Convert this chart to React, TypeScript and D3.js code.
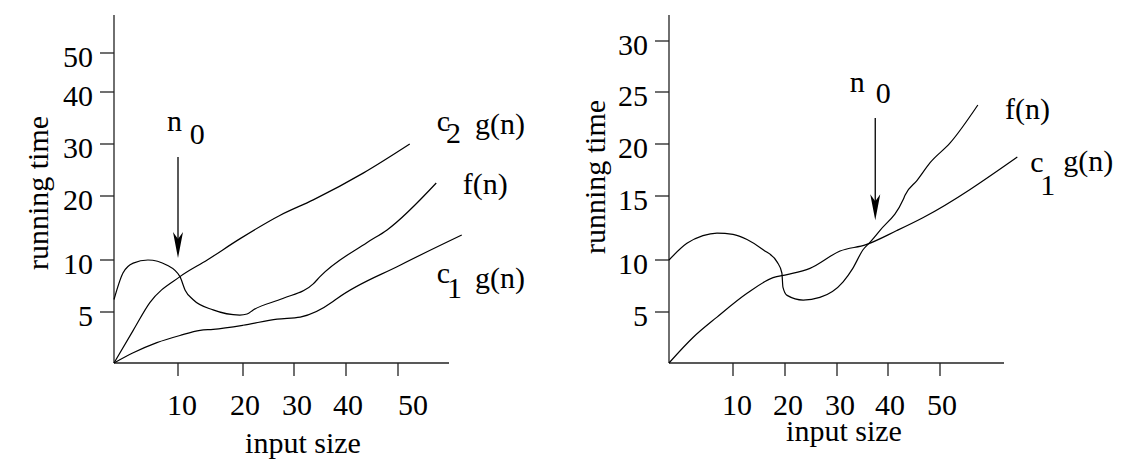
import React from 'react';
import * as d3 from 'd3';

// ---------- data ----------
const leftYTicks = [5, 10, 20, 30, 40, 50];
const leftXTicks = [10, 20, 30, 40, 50];
const rightYTicks = [5, 10, 15, 20, 25, 30];
const rightXTicks = [10, 20, 30, 40, 50];

// left panel: c2 g(n)
const leftC2X = [0, 3, 5.6, 10.3, 14.5, 19.5, 27.3, 33.7, 43.3, 52.3];
const leftC2Y = [0, 3.2, 5.9, 8.4, 10, 13.3, 17, 19.4, 24.4, 30];
// left panel: f(n)
const leftFX = [0, 1.4, 3.0, 5.3, 8.3, 10.3, 11.1, 12.3, 15.4, 19.5, 20.8, 22, 27.8, 33.7, 35, 44, 47.9, 57.5];
const leftFY = [6.2, 8.75, 9.7, 10, 9.5, 8.4, 7.1, 6.2, 5.2, 4.7, 4.8, 5.2, 6.3, 7.7, 8.4, 12.7, 14.7, 22.5];
// left panel: c1 g(n)
const leftC1X = [0, 3, 6.7, 10.3, 13.4, 15.4, 20, 26.7, 31.2, 37.5, 38.3, 50.4, 62.5];
const leftC1Y = [0, 1, 2, 2.7, 3.2, 3.3, 3.7, 4.3, 4.5, 6, 6.3, 9.5, 13.9];

// right panel: f(n)
const rightFX = [0, 2.8, 5.3, 7.5, 10, 12.7, 15.8, 18.5, 19.4, 19.6, 20.4, 23.5, 26.7, 31.2, 33.1, 35.1, 36.5, 38.4, 42.9, 43.3, 45.6, 48.1, 51.9, 57.1];
const rightFY = [10, 11.3, 11.9, 12.1, 12, 11.6, 10.8, 9.8, 8.75, 7.4, 6.6, 6.15, 6.4, 7.9, 9.2, 10.8, 11.4, 12.3, 14.7, 15.1, 16.5, 18.2, 20.1, 23.75];
// right panel: c1 g(n)
const rightC1X = [0, 3.75, 7.5, 12.7, 17.7, 20.4, 24.8, 30.6, 35.7, 41.7, 46.7, 64.5];
const rightC1Y = [0, 2.5, 4.5, 6.8, 8.3, 8.6, 9.2, 10.7, 11.2, 12.3, 13.3, 18.75];

// n0 markers (data coords)
const leftN0 = 10;
const rightN0 = 37.5;

const FONT = '"Liberation Serif", "Times New Roman", Times, serif';
const FS = 30;

type Pt = [number, number];
const zip = (xs: number[], ys: number[]): Pt[] => xs.map((x, i) => [x, ys[i]]);

type Ann = { x: number; y: number; text: string };

interface PanelProps {
  x: d3.ScaleLinear<number, number>;
  y: d3.ScaleLinear<number, number>;
  xMax: number;
  axisTop: number;
  xTicks: number[];
  yTicks: number[];
  xLabelDx: number[];
  series: Pt[][];
  arrow: { x: number; top: number; tip: number };
  anns: Ann[];
  yLabel: { x: number; y: number };
  xLabel: { x: number; y: number };
}

function Panel(p: PanelProps) {
  const { x, y } = p;
  const line = d3
    .line<Pt>()
    .x((d) => x(d[0]))
    .y((d) => y(d[1]))
    .curve(d3.curveMonotoneX);
  const x0 = x(0);
  const y0 = y(0);
  const ax = x(p.arrow.x);
  const aTop = y(p.arrow.top);
  const aTip = y(p.arrow.tip);
  return (
    <g>
      {/* axes */}
      <line x1={x0} x2={x0} y1={p.axisTop} y2={y0} stroke="#222" strokeWidth={1.3} />
      <line x1={x0} x2={x(p.xMax)} y1={y0} y2={y0} stroke="#222" strokeWidth={1.3} />
      {p.yTicks.map((t) => (
        <g key={'y' + t}>
          <line x1={x0 - 14} x2={x0} y1={y(t)} y2={y(t)} stroke="#222" strokeWidth={1.3} />
          <text x={x0 - 21} y={y(t) + 13.5} textAnchor="end" fontFamily={FONT} fontSize={FS}>
            {t}
          </text>
        </g>
      ))}
      {p.xTicks.map((t, i) => (
        <g key={'x' + t}>
          <line x1={x(t)} x2={x(t)} y1={y0} y2={y0 + 13} stroke="#222" strokeWidth={1.3} />
          <text x={x(t) + p.xLabelDx[i]} y={y0 + 52} textAnchor="middle" fontFamily={FONT} fontSize={FS}>
            {t}
          </text>
        </g>
      ))}
      {/* curves */}
      {p.series.map((s, i) => (
        <path key={'s' + i} d={line(s) || ''} fill="none" stroke="#000" strokeWidth={1.2} />
      ))}
      {/* arrow */}
      <line x1={ax} x2={ax} y1={aTop} y2={aTip - 16} stroke="#000" strokeWidth={1.3} />
      <path
        d={`M${ax},${aTip} L${ax - 5},${aTip - 26} L${ax},${aTip - 19} L${ax + 5},${aTip - 26} Z`}
        fill="#000"
      />
      {/* annotations */}
      {p.anns.map((a, i) => (
        <text key={'a' + i} x={x(a.x)} y={y(a.y)} fontFamily={FONT} fontSize={FS}>
          {a.text}
        </text>
      ))}
      {/* axis labels */}
      <text
        transform={`translate(${p.yLabel.x},${p.yLabel.y}) rotate(-90)`}
        textAnchor="middle"
        fontFamily={FONT}
        fontSize={FS}
      >
        running time
      </text>
      <text x={p.xLabel.x} y={p.xLabel.y} textAnchor="middle" fontFamily={FONT} fontSize={FS}>
        input size
      </text>
    </g>
  );
}

export default function App() {
  const xL = d3.scaleLinear().domain([0, 10, 20, 30, 40, 50, 60]).range([114, 178, 243, 294, 346, 398, 449]);
  const yL = d3.scaleLinear().domain([0, 5, 10, 20, 30, 40, 50]).range([363, 312, 260, 196, 144, 92, 53]);
  const xR = d3.scaleLinear().domain([0, 10, 20, 30, 40, 50, 62]).range([669, 733, 785, 837, 888, 940, 1004]);
  const yR = d3.scaleLinear().domain([0, 5, 10, 15, 20, 25, 30]).range([363, 312, 260, 196, 144, 92, 41]);

  const leftAnns: Ann[] = [
    { x: 8.3, y: 32.5, text: 'n' },
    { x: 11.8, y: 30, text: '0' },
    { x: 57.6, y: 32.5, text: 'c' },
    { x: 59.4, y: 30.2, text: '2' },
    { x: 65.1, y: 31.9, text: 'g(n)' },
    { x: 62.7, y: 20.4, text: 'f(n)' },
    { x: 57.6, y: 7.8, text: 'c' },
    { x: 59.6, y: 6.35, text: '1' },
    { x: 65.1, y: 7.3, text: 'g(n)' },
  ];
  const rightAnns: Ann[] = [
    { x: 32.5, y: 25, text: 'n' },
    { x: 37.6, y: 23.9, text: '0' },
    { x: 62.2, y: 22.4, text: 'f(n)' },
    { x: 66.9, y: 17.3, text: 'c' },
    { x: 68.8, y: 15.1, text: '1' },
    { x: 73.1, y: 17.4, text: 'g(n)' },
  ];

  return (
    <svg
      width={1144}
      height={476}
      style={{ position: 'absolute', left: 0, top: 0, background: '#fff' }}
    >
      <rect x={0} y={0} width={1144} height={476} fill="#fff" />
      <Panel
        x={xL}
        y={yL}
        xMax={60}
        axisTop={15}
        xTicks={leftXTicks}
        yTicks={leftYTicks}
        xLabelDx={[4, 2, 3, 2, 15]}
        series={[zip(leftC2X, leftC2Y), zip(leftFX, leftFY), zip(leftC1X, leftC1Y)]}
        arrow={{ x: leftN0, top: 27.5, tip: 10.3 }}
        anns={leftAnns}
        yLabel={{ x: 48, y: 193 }}
        xLabel={{ x: 303, y: 453 }}
      />
      <Panel
        x={xR}
        y={yR}
        xMax={62}
        axisTop={15}
        xTicks={rightXTicks}
        yTicks={rightYTicks}
        xLabelDx={[4, 3, 3, 2, 2]}
        series={[zip(rightFX, rightFY), zip(rightC1X, rightC1Y)]}
        arrow={{ x: rightN0, top: 22.5, tip: 13.1 }}
        anns={rightAnns}
        yLabel={{ x: 605, y: 177 }}
        xLabel={{ x: 844, y: 441 }}
      />
    </svg>
  );
}
